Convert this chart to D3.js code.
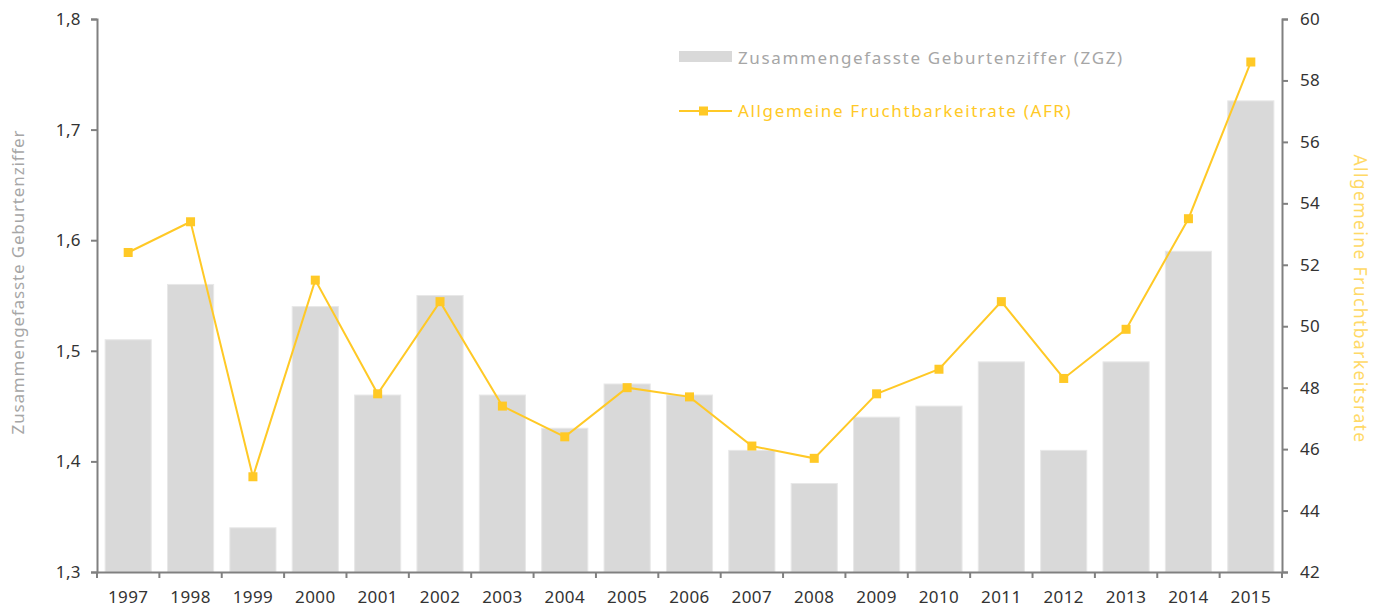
<!DOCTYPE html>
<html>
<head>
<meta charset="utf-8">
<script src="https://cdn.jsdelivr.net/npm/d3@7"></script>
<style>
    body { margin: 0; background: #fff; }
    svg text { font-family: "Noto Sans", sans-serif; }
</style>
</head>
<body>
<svg id="chart" width="1381" height="607"></svg>
<script>
// values
const years = ['1997', '1998', '1999', '2000', '2001', '2002', '2003', '2004', '2005', '2006',
    '2007', '2008', '2009', '2010', '2011', '2012', '2013', '2014', '2015'];
const zgz = [1.51, 1.56, 1.34, 1.54, 1.46, 1.55, 1.46, 1.43, 1.47, 1.46,
    1.41, 1.38, 1.44, 1.45, 1.49, 1.41, 1.49, 1.59, 1.726];
const afr = [52.4, 53.4, 45.1, 51.5, 47.8, 50.8, 47.4, 46.4, 48.0, 47.7,
    46.1, 45.7, 47.8, 48.6, 50.8, 48.3, 49.9, 53.5, 58.6];
const leftTicks = [1.3, 1.4, 1.5, 1.6, 1.7, 1.8];
const rightTicks = [42, 44, 46, 48, 50, 52, 54, 56, 58, 60];

const BAR_COLOR = '#d9d9d9';
const LINE_COLOR = '#ffc926';
const AXIS_COLOR = '#808080';

let margin = {top: 19, right: 99, bottom: 35, left: 97},
    width = 1381 - margin.left - margin.right,
    height = 607 - margin.top - margin.bottom;

let svg = d3.select('#chart');
let g = svg.append('g').attr('transform', 'translate(' + margin.left + ',' + margin.top + ')');

let x = d3.scaleBand().domain(years).range([0, width]).paddingInner(0.26).paddingOuter(0.13);
let y = d3.scaleLinear().domain([1.3, 1.8]).range([height, 0]);
let y2 = d3.scaleLinear().domain([42, 60]).range([height, 0]);

let fmt = d3.format('.1f');
let comma = (d) => fmt(d).replace('.', ',');

// bars
g.selectAll('rect.bar')
    .data(zgz)
    .enter().append('rect')
    .attr('class', 'bar')
    .attr('x', (d, i) => x(years[i]))
    .attr('y', (d) => y(d))
    .attr('width', x.bandwidth())
    .attr('height', (d) => height - y(d))
    .attr('fill', BAR_COLOR)
    .attr('stroke', '#e8e8e8')
    .attr('stroke-width', 1);

// line
let line = d3.line()
    .x((d, i) => x(years[i]) + x.bandwidth() / 2)
    .y((d) => y2(d));

g.append('path')
    .datum(afr)
    .attr('fill', 'none')
    .attr('stroke', LINE_COLOR)
    .attr('stroke-width', 2)
    .attr('d', line);

g.selectAll('rect.marker')
    .data(afr)
    .enter().append('rect')
    .attr('class', 'marker')
    .attr('x', (d, i) => x(years[i]) + x.bandwidth() / 2 - 4.5)
    .attr('y', (d) => y2(d) - 4.5)
    .attr('width', 9)
    .attr('height', 9)
    .attr('fill', LINE_COLOR);

// axes
function styleAxis(sel) {
    sel.select('.domain').attr('stroke', AXIS_COLOR).attr('stroke-width', 2);
    sel.selectAll('.tick line').attr('stroke', AXIS_COLOR).attr('stroke-width', 2);
    sel.selectAll('.tick text').attr('fill', '#333').style('font-size', '17px').style('letter-spacing', '0.4px');
}

let xAxisG = g.append('g')
    .attr('transform', 'translate(0,' + height + ')')
    .call(d3.axisBottom(x).tickSize(0).tickSizeOuter(0).tickPadding(19));
styleAxis(xAxisG);

// band boundary ticks on the x axis
let bounds = years.map((yr) => x(yr) - x.step() * x.paddingInner() / 2);
bounds[0] = 0;
bounds.push(width);
xAxisG.selectAll('line.sep')
    .data(bounds)
    .enter().append('line')
    .attr('class', 'sep')
    .attr('x1', (d) => d).attr('x2', (d) => d)
    .attr('y1', 0).attr('y2', 6)
    .attr('stroke', AXIS_COLOR).attr('stroke-width', 2);

let yAxisG = g.append('g')
    .call(d3.axisLeft(y).tickValues(leftTicks).tickFormat(comma).tickSize(6).tickSizeOuter(6).tickPadding(10));
styleAxis(yAxisG);

let y2AxisG = g.append('g')
    .attr('transform', 'translate(' + width + ',0)')
    .call(d3.axisRight(y2).tickValues(rightTicks).tickSize(6).tickSizeOuter(6).tickPadding(12));
styleAxis(y2AxisG);

// axis titles
svg.append('text')
    .attr('transform', 'translate(24,' + 282 + ') rotate(-90)')
    .attr('text-anchor', 'middle')
    .attr('fill', '#a6a6a6')
    .style('font-size', '17px')
    .style('letter-spacing', '0.85px')
    .text('Zusammengefasste Geburtenziffer');

svg.append('text')
    .attr('transform', 'translate(1354,' + 299 + ') rotate(90)')
    .attr('text-anchor', 'middle')
    .attr('fill', '#ffd966')
    .style('font-size', '17.5px')
    .style('letter-spacing', '1.4px')
    .text('Allgemeine Fruchtbarkeitsrate');

// legend
let legend = svg.append('g').attr('transform', 'translate(679,0)');
legend.append('rect')
    .attr('x', 0).attr('y', 51).attr('width', 53).attr('height', 11)
    .attr('fill', BAR_COLOR);
legend.append('text')
    .attr('x', 59).attr('y', 64)
    .attr('fill', '#a6a6a6')
    .style('font-size', '17px')
    .style('letter-spacing', '1.65px')
    .text('Zusammengefasste Geburtenziffer (ZGZ)');

legend.append('line')
    .attr('x1', 0).attr('x2', 53).attr('y1', 111).attr('y2', 111)
    .attr('stroke', LINE_COLOR).attr('stroke-width', 2);
legend.append('rect')
    .attr('x', 20).attr('y', 106.5).attr('width', 9).attr('height', 9)
    .attr('fill', LINE_COLOR);
legend.append('text')
    .attr('x', 59).attr('y', 117)
    .attr('fill', LINE_COLOR)
    .style('font-size', '17px')
    .style('letter-spacing', '1.65px')
    .text('Allgemeine Fruchtbarkeitrate (AFR)');
</script>
</body>
</html>
